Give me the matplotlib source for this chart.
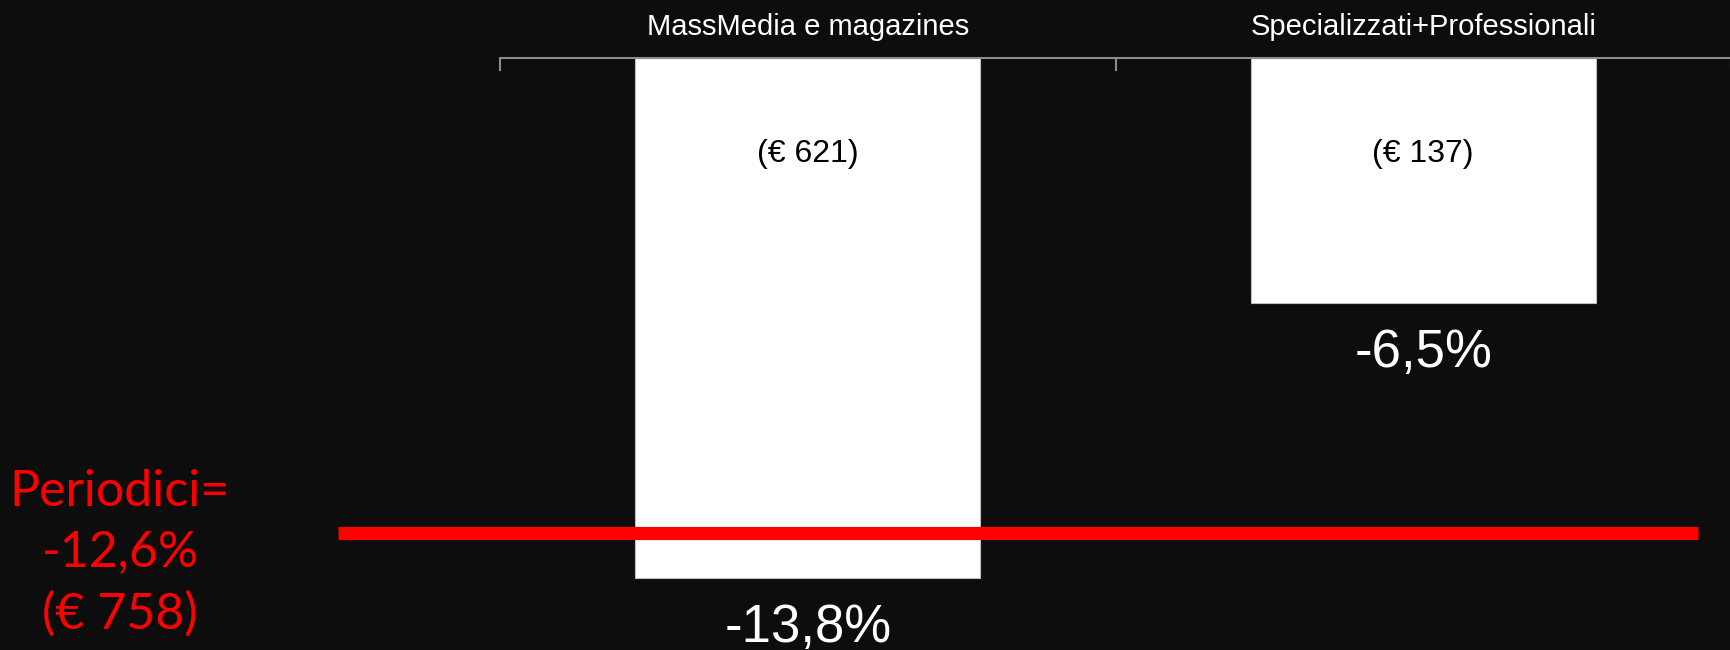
import numpy as np
import matplotlib.pyplot as plt
from matplotlib.transforms import blended_transform_factory

# Dati. =======================================================================

categorie = ['MassMedia e magazines', 'Specializzati+Professionali']
variazioni = [-13.8, -6.5]
valori = ['(€ 621)', '(€ 137)']
etichette = ['-13,8%', '-6,5%']

totale = -12.6
totale_testo = 'Periodici=\n-12,6%\n(€ 758)'

# Figura. =====================================================================

sfondo = '#0d0d0d'
fig = plt.figure(figsize=(17.31, 6.5), dpi=100)
fig.set_facecolor(sfondo)

ax = fig.add_axes([500 / 1731, 0.0, 1231 / 1731, 592 / 650])
ax.set_facecolor(sfondo)

x = np.arange(len(categorie))
ax.bar(x, variazioni, width=0.56, color='white', edgecolor='#bfbfbf', linewidth=0.8, zorder=2)

ax.set_xlim(-0.5, -0.5 + 1231 / 618)
ax.set_ylim(-(650 - 58) / 37.7, 0)

# Asse in alto con etichette delle categorie.
for s in ['left', 'right', 'bottom']:
    ax.spines[s].set_visible(False)
ax.spines['top'].set_color('#8c8c8c')
ax.spines['top'].set_linewidth(1.5)
ax.xaxis.tick_top()
ax.set_xticks(x)
ax.set_xticklabels(categorie, fontsize=21, color='white', family='Liberation Sans')
ax.set_xticks(np.arange(len(categorie) + 1) - 0.5, minor=True)
ax.tick_params(axis='x', which='major', length=0, pad=12)
ax.tick_params(axis='x', which='minor', direction='in', length=9, width=1.5, color='#8c8c8c')
ax.set_yticks([])

# Etichette delle barre.
for xi, v, val, et in zip(x, variazioni, valori, etichette):
    ax.text(xi, -2.55, val, ha='center', va='center', fontsize=23, color='black',
            family='Liberation Sans', zorder=3)
    ax.text(xi, v - 1.32, et, ha='center', va='center', fontsize=38, color='white',
            family='Liberation Sans', clip_on=False)

# Linea del totale.
tr = blended_transform_factory(fig.transFigure, ax.transData)
ax.plot([338 / 1731, 1698 / 1731], [totale, totale], color='#ff0000', linewidth=9.5,
        solid_capstyle='butt', transform=tr, clip_on=False, zorder=4)

fig.text(120 / 1731, 1 - 553 / 650, totale_testo, ha='center', va='center', color='#ff0000',
         fontsize=36, family='Lato', linespacing=1.4)

plt.savefig('out.png', facecolor=sfondo)
